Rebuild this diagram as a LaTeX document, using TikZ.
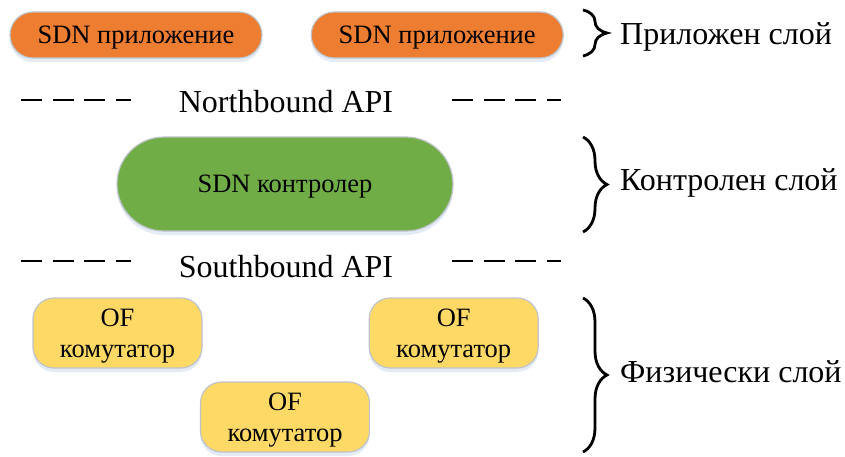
\documentclass[tikz,border=0pt]{standalone}
\usepackage{fontspec}
\setmainfont{Liberation Serif}
\usetikzlibrary{positioning,shadows,decorations.pathreplacing}

\definecolor{apporange}{HTML}{ED7D31}
\definecolor{ctrlgreen}{HTML}{70AD47}
\definecolor{swyellow}{HTML}{FFD966}
\definecolor{edgegray}{HTML}{BFC3CA}
\definecolor{glowblue}{HTML}{DCE6F2}

\begin{document}
\begin{tikzpicture}[x=1pt,y=-1pt,
box/.style={draw=edgegray, line width=1.2pt, align=center, inner sep=0pt, text depth=0pt,
  font=\rmfamily\fontsize{26.5}{31}\selectfont,
  drop shadow={shadow xshift=0pt, shadow yshift=-4pt, fill=glowblue, opacity=0.8}},
appnode/.style={box, fill=apporange, minimum width=252pt, minimum height=46pt, rounded corners=23pt},
ctrlnode/.style={box, fill=ctrlgreen, minimum width=336pt, minimum height=94pt, rounded corners=47pt},
swnode/.style={box, fill=swyellow, minimum width=169pt, minimum height=70pt, rounded corners=21pt},
apilabel/.style={font=\rmfamily\fontsize{32}{36}\selectfont, inner sep=0pt, anchor=base},
layerlabel/.style={font=\rmfamily\fontsize{32}{36}\selectfont, inner sep=0pt, anchor=base west},
apiline/.style={line width=2.5pt, dash pattern=on 21pt off 10.5pt},
layerbrace/.style={line width=2.8pt, decorate, decoration={brace, amplitude=24pt, aspect=0.5}}]
    \useasboundingbox (0,0) rectangle (845,457);

    % application layer
    \node [appnode] (app1) at (136,35) {SDN приложение};
    \node [appnode, right=48pt of app1] (app2) {SDN приложение};

    % northbound
    \node [apilabel] (nbapi) at (286,113) {Northbound API};
    \coordinate (nbl1) at (21,100);  \coordinate (nbl2) at (131,100);
    \coordinate (nbr1) at (452,100); \coordinate (nbr2) at (561,100);
    \draw [apiline] (nbl1) -- (nbl2);
    \draw [apiline] (nbr1) -- (nbr2);

    % controller
    \node [ctrlnode] (ctrl) at (285,184) {SDN контролер};

    % southbound
    \node [apilabel] (sbapi) at (286,277) {Southbound API};
    \coordinate (sbl1) at (21,261);  \coordinate (sbl2) at (131,261);
    \coordinate (sbr1) at (452,261); \coordinate (sbr2) at (561,261);
    \draw [apiline] (sbl1) -- (sbl2);
    \draw [apiline] (sbr1) -- (sbr2);

    % switches
    \node [swnode] (sw1) at (117.5,333) {OF\\комутатор};
    \node [swnode, right=166pt of sw1] (sw2) {OF\\комутатор};
    \node [swnode] (sw3) at (285,417) {OF\\комутатор};

    % braces and layer names
    \coordinate (br1a) at (583,10);  \coordinate (br1b) at (583,56);
    \coordinate (br2a) at (583,137); \coordinate (br2b) at (583,232);
    \coordinate (br3a) at (583,298); \coordinate (br3b) at (583,452);
    \draw [layerbrace] (br1a) -- (br1b);
    \draw [layerbrace] (br2a) -- (br2b);
    \draw [layerbrace] (br3a) -- (br3b);
    \node [layerlabel] (appl) at (620,45) {Приложен слой};
    \node [layerlabel] (ctrll) at (620,190) {Контролен слой};
    \node [layerlabel] (physl) at (620,382) {Физически слой};
\end{tikzpicture}
\end{document}
